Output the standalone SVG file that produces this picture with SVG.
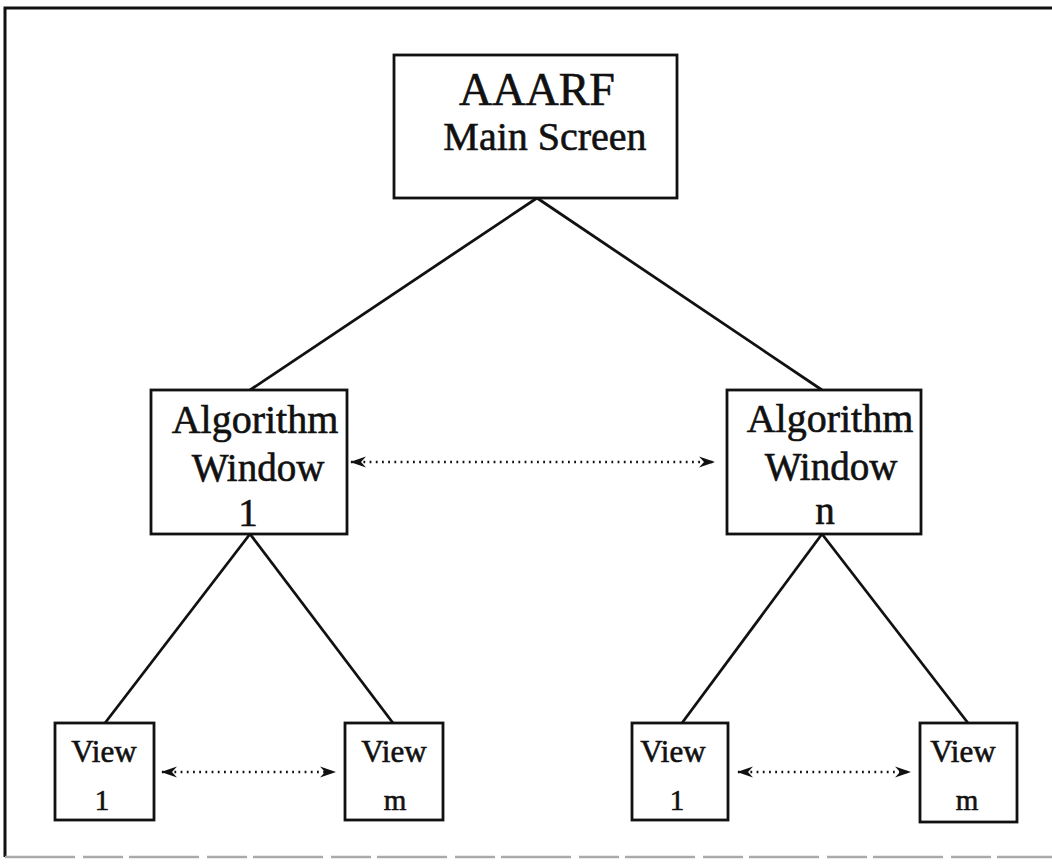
<svg xmlns="http://www.w3.org/2000/svg" width="1052" height="867" viewBox="0 0 1052 867">
<style>
.box{fill:#fff;stroke:#111;stroke-width:2.8}
.ln{fill:none;stroke:#111;stroke-width:2.8}
.dot{fill:none;stroke:#111;stroke-width:2.4;stroke-dasharray:1.8 4.4}
text{font-family:"Liberation Serif","Times New Roman",serif;fill:#111;stroke:#111;stroke-width:0.6;text-anchor:middle}
.big{font-size:46px}
.mid{font-size:40px}
.aw{font-size:39px}
.v{font-size:31px}
.n{font-size:29px}
</style>
<defs>
<marker id="ah" viewBox="0 0 16 12" refX="15" refY="6" markerWidth="16" markerHeight="12" markerUnits="userSpaceOnUse" orient="auto-start-reverse">
<path d="M0,0.5 L16,6 L0,11.5 L5,6 Z" fill="#111"/>
</marker>
</defs>
<rect x="0" y="0" width="1052" height="867" fill="#fff"/>
<g id="frame">
<path d="M1052,8 H5 V857" fill="none" stroke="#111" stroke-width="3"/>
<path d="M5,857 H1052" fill="none" stroke="#aaa" stroke-width="2.5" stroke-dasharray="70 8 40 6"/>
</g>
<g id="connectors">
<line class="ln" x1="537" y1="198" x2="250" y2="390"/>
<line class="ln" x1="537" y1="198" x2="822" y2="390"/>
<line class="ln" x1="250" y1="534" x2="105" y2="723"/>
<line class="ln" x1="250" y1="534" x2="393" y2="723"/>
<line class="ln" x1="822" y1="534" x2="682" y2="723"/>
<line class="ln" x1="822" y1="534" x2="968" y2="723"/>
<line class="dot" x1="351" y1="462" x2="714" y2="462" marker-start="url(#ah)" marker-end="url(#ah)"/>
<line class="dot" x1="162" y1="772" x2="335" y2="772" marker-start="url(#ah)" marker-end="url(#ah)"/>
<line class="dot" x1="738" y1="772" x2="910" y2="772" marker-start="url(#ah)" marker-end="url(#ah)"/>
</g>
<g id="main">
<rect class="box" x="394" y="55" width="283" height="143"/>
<text class="big" x="537" y="105">AAARF</text>
<text class="mid" x="545" y="150">Main Screen</text>
</g>
<g id="aw1">
<rect class="box" x="151" y="390" width="196" height="144"/>
<text class="mid" x="255" y="433">Algorithm</text>
<text class="aw" x="258" y="481">Window</text>
<text class="aw" x="248" y="526">1</text>
</g>
<g id="awn">
<rect class="box" x="727" y="390" width="194" height="144"/>
<text class="mid" x="830" y="432">Algorithm</text>
<text class="aw" x="831" y="480">Window</text>
<text class="aw" x="825" y="524">n</text>
</g>
<g id="view1a">
<rect class="box" x="55" y="723" width="99" height="97"/>
<text class="v" x="104" y="762">View</text>
<text class="n" x="102" y="810">1</text>
</g>
<g id="viewma">
<rect class="box" x="345" y="723" width="98" height="97"/>
<text class="v" x="394" y="762">View</text>
<text class="n" x="395" y="810">m</text>
</g>
<g id="view1b">
<rect class="box" x="632" y="723" width="96" height="97"/>
<text class="v" x="673" y="762">View</text>
<text class="n" x="677" y="810">1</text>
</g>
<g id="viewmb">
<rect class="box" x="920" y="723" width="97" height="99"/>
<text class="v" x="963" y="762">View</text>
<text class="n" x="967" y="810">m</text>
</g>
</svg>
